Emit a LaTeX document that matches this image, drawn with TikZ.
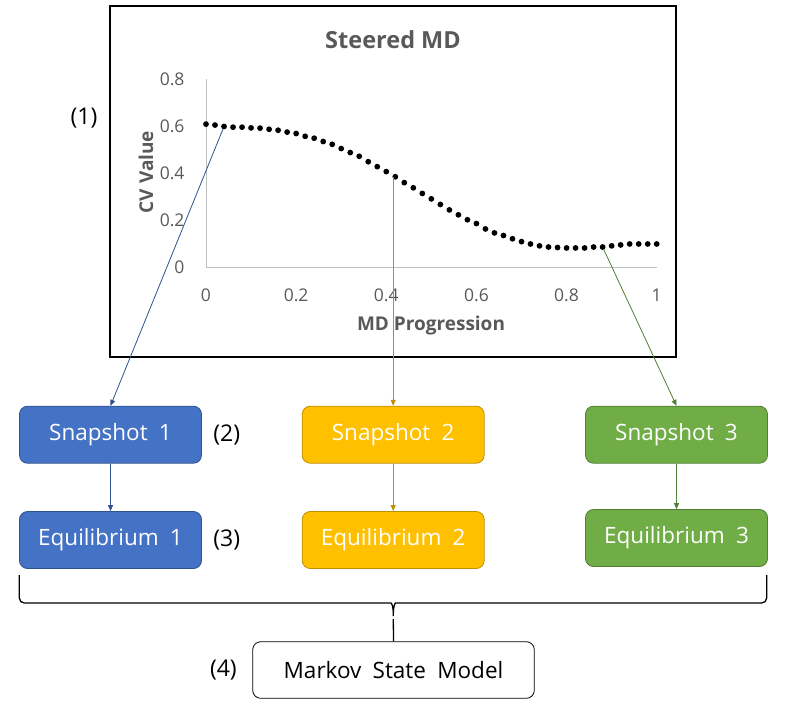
\documentclass[tikz,border=0pt]{standalone}
\usepackage{fontspec}
\setmainfont{Open Sans}
\usetikzlibrary{arrows.meta,positioning}
\definecolor{bluefill}{HTML}{4472C4}
\definecolor{blueline}{HTML}{2F528F}
\definecolor{orangefill}{HTML}{FFC000}
\definecolor{orangeline}{HTML}{BF9000}
\definecolor{greenfill}{HTML}{70AD47}
\definecolor{greenline}{HTML}{507E32}
\definecolor{chartgray}{HTML}{595959}
\definecolor{axisgray}{HTML}{BFBFBF}
\tikzset{
  box/.style={rounded corners=8pt, minimum width=182pt, minimum height=57pt, text=white,
    font=\fontsize{22.5}{26}\selectfont, line width=0.8pt},
  dot/.style={circle, fill=black, inner sep=0pt, minimum size=5.8pt},
  tick/.style={text=chartgray, font=\fontsize{17.5}{20}\selectfont},
  axistitle/.style={text=chartgray, font=\bfseries\fontsize{19}{22}\selectfont},
  link/.style={-{Triangle[length=6pt,width=5pt]}, line width=0.8pt},
  label/.style={font=\fontsize{23}{27}\selectfont}
}
\begin{document}
\begin{tikzpicture}[x=1pt, y=-1pt]
  \useasboundingbox (0,0) rectangle (790,720);
  % chart
  \draw[line width=1.2pt] (110,6) rectangle (676,357);
  \draw[axisgray, line width=0.9pt] (206,79.3) -- (206,267) -- (656.7,267);
  \node[text=chartgray, font=\bfseries\fontsize{23.5}{27}\selectfont] (title) at (393,40) {Steered MD};
  \foreach \y in {0,0.2,0.4,0.6,0.8}
    \node[tick, anchor=east] at (188,{267-\y*235}) {\y};
  \foreach \x in {0,0.2,0.4,0.6,0.8,1}
    \node[tick] at ({206+\x*450.7},295) {\x};
  \node[axistitle] (xtitle) at (431,326) {MD Progression};
  \node[axistitle, rotate=90] (ytitle) at (146,172) {CV Value};
  \foreach \v [count=\i from 0] in {0.608,0.604,0.598,0.595,0.595,0.592,0.591,0.586,0.582,0.574,
      0.568,0.556,0.548,0.534,0.522,0.504,0.487,0.471,0.448,0.427,0.406,0.384,0.359,0.337,0.313,
      0.290,0.266,0.243,0.222,0.201,0.185,0.162,0.145,0.134,0.120,0.108,0.098,0.090,0.085,0.083,
      0.081,0.081,0.081,0.085,0.085,0.090,0.094,0.098,0.098,0.098,0.098}
    \node[dot] (p\i) at ({206+\i*9.014},{267-\v*235}) {};
  % boxes
  \node[box, fill=bluefill, draw=blueline] (snap1) at (110.5,434.7) {Snapshot\enspace 1};
  \node[box, fill=bluefill, draw=blueline] (eq1) at (110.5,540) {Equilibrium\enspace 1};
  \node[box, fill=orangefill, draw=orangeline] (snap2) at (393.2,434.7) {Snapshot\enspace 2};
  \node[box, fill=orangefill, draw=orangeline] (eq2) at (393.2,540) {Equilibrium\enspace 2};
  \node[box, fill=greenfill, draw=greenline] (snap3) at (676.5,434.7) {Snapshot\enspace 3};
  \node[box, fill=greenfill, draw=greenline] (eq3) at (676.5,538) {Equilibrium\enspace 3};
  \node[box, fill=white, draw=black, text=black, minimum width=281.6pt, minimum height=56.6pt]
    (msm) at (393.5,670) {Markov\enspace State\enspace Model};
  \node[label, right=8pt of snap1] (l2) {(2)};
  \node[label, right=8pt of eq1] (l3) {(3)};
  \node[label, left=12pt of msm] (l4) {(4)};
  \node[label] (l1) at (84,118) {(1)};
  % arrows
  \draw[link, blueline] (p2) -- (snap1.north);
  \draw[link, orangeline] (snap2.north |- p21) -- (snap2.north);
  \draw[link, greenline] (p44) -- (snap3.north);
  \draw[link, blueline] (snap1) -- (eq1);
  \draw[link, orangeline] (snap2) -- (eq2);
  \draw[link, greenline] (snap3) -- (eq3);
  % brace
  \coordinate (tip) at (393.3,619);
  \draw[line width=1.3pt, rounded corners=5pt] (19.3,575) -- (19.3,603) -- (386,603)
    .. controls (391.5,603) and (393.3,606) .. (tip) .. controls (393.3,606) and (395.1,603) .. (400.6,603)
    -- (766.7,603) -- (766.7,575);
  \draw[line width=1.3pt] (tip) -- (msm.north);
\end{tikzpicture}
\end{document}
